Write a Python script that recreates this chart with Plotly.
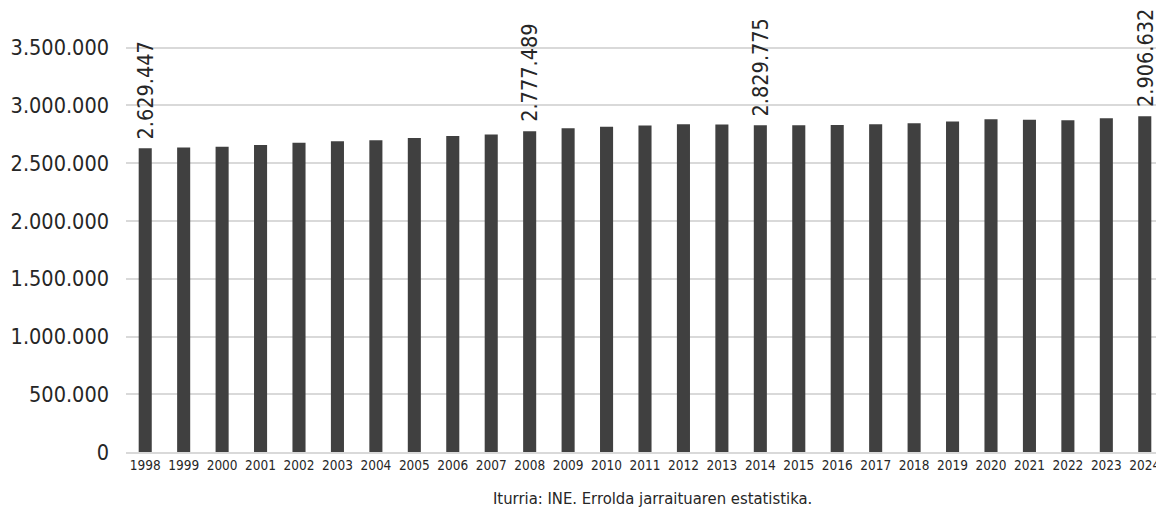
import plotly.graph_objects as go

years = [str(y) for y in range(1998, 2025)]
population = [2629447, 2636633, 2642353, 2657741, 2677909, 2690414, 2700013,
              2718318, 2735558, 2747736, 2777489, 2802753, 2815263, 2826657,
              2837659, 2836159, 2829775, 2829733, 2830181, 2837392, 2846642,
              2861990, 2881701, 2875530, 2872291, 2888457, 2906632]
labelled_years = ["1998", "2008", "2014", "2024"]
source_text = "Iturria: INE. Errolda jarraituaren estatistika."

def fmt(v):
    return f"{v:,}".replace(",", ".")

FONT = "DejaVu Sans Condensed, DejaVu Sans, sans-serif"
TXT = "#262626"

# page has an 8px body margin, so the figure is drawn offset by 8px
OFF = 8
W, H = 1164 - OFF, 514 - OFF
L, R, T = 126 - OFF, 0, 48 - OFF - 2
B = H - (452 - OFF)

fig = go.Figure(go.Bar(
    x=years, y=population,
    marker=dict(color="#404040", line=dict(width=0)),
    hoverinfo="x+y",
))

for i, (y, v) in enumerate(zip(years, population)):
    if y in labelled_years:
        fig.add_annotation(
            x=i, y=v, xref="x", yref="y", text=fmt(v), textangle=-90,
            xanchor="center", yanchor="bottom", yshift=8, showarrow=False,
            font=dict(family=FONT, size=21.5, color=TXT), borderpad=0,
        )

fig.update_layout(
    width=W, height=H,
    margin=dict(l=L, r=R, t=T, b=B, autoexpand=False),
    paper_bgcolor="white", plot_bgcolor="white",
    separators=",.",
    bargap=0.66,
    showlegend=False,
    font=dict(family=FONT, color=TXT),
)
fig.update_yaxes(
    range=[0, 3515000], tickvals=[0, 500000, 1000000, 1500000, 2000000, 2500000, 3000000, 3500000],
    tickformat=",d",
    showgrid=True, gridcolor="#d9d9d9", gridwidth=1.5,
    zeroline=False, showline=False, automargin=False,
    tickfont=dict(family=FONT, size=21.5, color=TXT),
    ticklabelstandoff=16,
)
fig.update_xaxes(
    type="category", categoryorder="array", categoryarray=years,
    range=[-0.5, len(years) - 0.5],
    showgrid=False, showline=True, linecolor="#d9d9d9", linewidth=1.5,
    tickfont=dict(family=FONT, size=13.5, color=TXT), ticks="", automargin=False,
)
pw, ph = W - L - R, H - T - B
fig.add_annotation(
    text=source_text, xref="paper", yref="paper",
    x=(652 - OFF - L) / pw, y=(H - B - (498 - OFF)) / ph, xanchor="center", yanchor="middle",
    showarrow=False, font=dict(family=FONT, size=16.5, color=TXT),
)

fig.write_html("out.html")
